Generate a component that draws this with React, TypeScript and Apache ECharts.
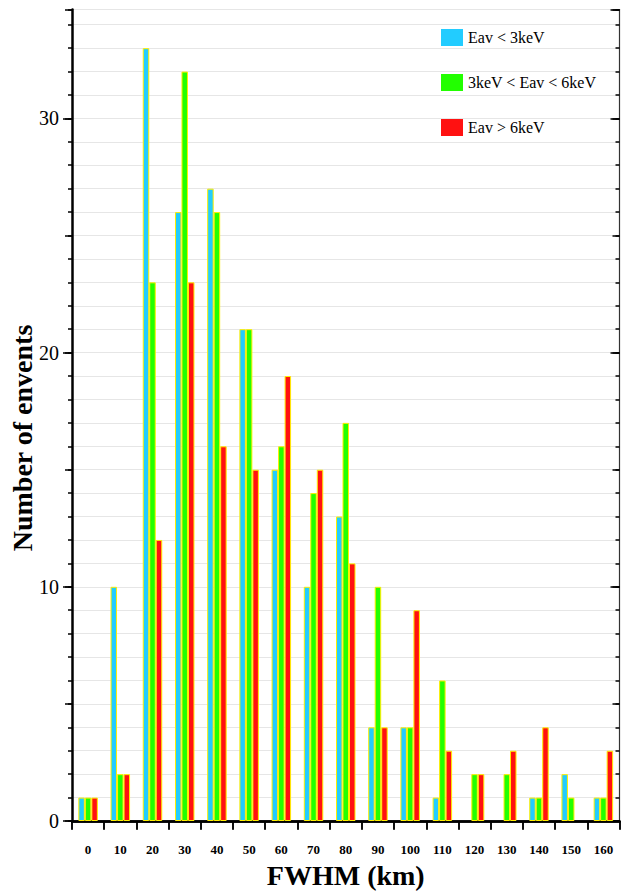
import React, { useEffect, useRef } from "react";
import * as echarts from "echarts";

const categories = ["0", "10", "20", "30", "40", "50", "60", "70", "80", "90", "100", "110", "120", "130", "140", "150", "160"];
const lowEnergy = [1, 10, 33, 26, 27, 21, 15, 10, 13, 4, 4, 1, 0, 0, 1, 2, 1];
const midEnergy = [1, 2, 23, 32, 26, 21, 16, 14, 17, 10, 4, 6, 2, 2, 1, 1, 1];
const highEnergy = [1, 2, 12, 23, 16, 15, 19, 15, 11, 4, 9, 3, 2, 3, 4, 0, 3];
const seriesNames = ["Eav < 3keV", "3keV < Eav < 6keV", "Eav > 6keV"];
const seriesColors = ["#22ccff", "#22ff00", "#ff1111"];
const yMax = 34.65;

const SERIF = "Liberation Serif";

export default function App() {
  const ref = useRef<HTMLDivElement>(null);
  useEffect(() => {
    if (!ref.current) return;
    const chart = echarts.init(ref.current, null, { renderer: "svg" });
    const baseY = (position: string, interval: number, tickLen: number, inside: boolean, extra: any = {}) => ({
      type: "value",
      position,
      min: 0,
      max: yMax,
      interval,
      axisLine: { show: false },
      axisTick: { show: true, length: tickLen, inside, lineStyle: { color: "#000", width: 1.5 } },
      axisLabel: { show: false },
      splitLine: { show: false },
      ...extra,
    });
    const values = [lowEnergy, midEnergy, highEnergy];
    const option: any = {
      animation: false,
      backgroundColor: "#fff",
      grid: { left: 72, right: 1.5, top: 9.5, bottom: 68, containLabel: false },
      legend: {
        orient: "vertical",
        left: 441,
        top: 29,
        padding: 0,
        icon: "rect",
        itemWidth: 22,
        itemHeight: 17,
        itemGap: 28,
        data: seriesNames,
        itemStyle: { borderWidth: 0 },
        textStyle: { fontFamily: SERIF, fontSize: 16, color: "#000" },
      },
      xAxis: [
        {
          type: "category",
          data: categories,
          position: "bottom",
          axisLine: { show: true, lineStyle: { color: "#000", width: 2.5 } },
          axisTick: { show: true, length: 8, lineStyle: { color: "#000", width: 1.5 } },
          axisLabel: { fontFamily: SERIF, fontWeight: "bold", fontSize: 13, color: "#000", margin: 22, interval: 0 },
          name: "FWHM (km)",
          nameLocation: "middle",
          nameGap: 40,
          nameTextStyle: { fontFamily: SERIF, fontWeight: "bold", fontSize: 28, color: "#000" },
          splitLine: { show: false },
        },
        {
          type: "category",
          data: categories,
          position: "top",
          axisLine: { show: true, lineStyle: { color: "#000", width: 2.5 } },
          axisTick: { show: true, length: 9, inside: true, lineStyle: { color: "#000", width: 1.5 } },
          axisLabel: { show: false },
          splitLine: { show: false },
        },
      ],
      yAxis: [
        baseY("left", 10, 9, false, {
          axisLine: { show: true, lineStyle: { color: "#000", width: 2.5 } },
          axisLabel: { show: true, showMaxLabel: false, fontFamily: SERIF, fontSize: 20, color: "#000", margin: 13 },
        }),
        baseY("left", 5, 7, false),
        baseY("left", 1, 4, false, {
          splitLine: { show: true, lineStyle: { color: "#e6e6e6", width: 1.2 } },
        }),
        baseY("right", 10, 9, true, {
          axisLine: { show: true, lineStyle: { color: "#333", width: 1.2 } },
        }),
        baseY("right", 5, 7, true),
        baseY("right", 1, 4, true),
      ],
      series: seriesNames.map((name, i) => ({
        type: "bar",
        name,
        data: values[i].map((v) => (v === 0 ? { value: 0, itemStyle: { borderWidth: 0 } } : v)),
        xAxisIndex: 0,
        yAxisIndex: 0,
        barWidth: 6.5,
        barGap: "0%",
        itemStyle: { color: seriesColors[i], borderColor: "#ffee00", borderWidth: 1 },
      })),
      graphic: [
        {
          type: "text",
          x: 22,
          y: 438,
          rotation: Math.PI / 2,
          style: {
            text: "Number of envents",
            fontFamily: SERIF,
            fontWeight: "bold",
            fontSize: 28,
            fill: "#000",
            textAlign: "center",
            textVerticalAlign: "middle",
          },
        },
      ],
    };
    chart.setOption(option);
    return () => chart.dispose();
  }, []);
  return <div ref={ref} style={{ width: 621, height: 894, position: "absolute", left: 0, top: 0 }} />;
}
